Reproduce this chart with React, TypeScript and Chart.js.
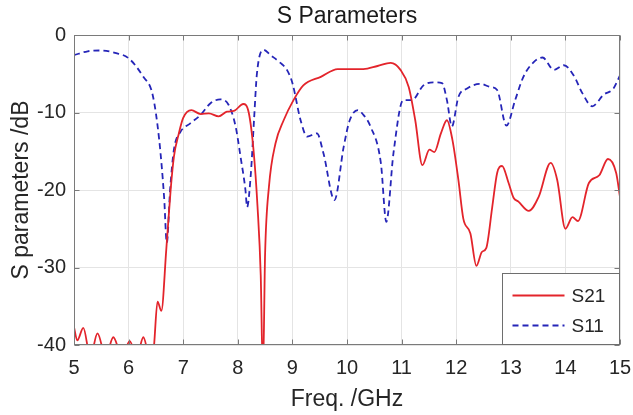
import React, { useEffect, useRef } from "react";
import { Chart, registerables } from "chart.js";

Chart.register(...registerables);

const chartTitle = "S Parameters";
const xAxisLabel = "Freq. /GHz";
const yAxisLabel = "S parameters /dB";
const xTickValues = [5, 6, 7, 8, 9, 10, 11, 12, 13, 14, 15];
const yTickValues = [-40, -30, -20, -10, 0];

const s21Label = "S21";
const s21Freq = [
  5.0, 5.06, 5.17, 5.3, 5.43, 5.58, 5.72, 5.88, 6.02, 6.15, 6.27, 6.4, 6.46, 6.53, 6.6, 6.69, 6.77, 6.83,
  6.92, 7.0, 7.15, 7.32, 7.47, 7.65, 7.8, 7.93, 8.1, 8.2, 8.29, 8.36, 8.42, 8.46, 8.5, 8.57, 8.69, 8.84,
  9.02, 9.2, 9.52, 9.83, 10.3, 10.56, 10.8, 10.98, 11.13, 11.25, 11.38, 11.51, 11.6, 11.72, 11.83, 11.93,
  12.04, 12.13, 12.26, 12.37, 12.47, 12.55, 12.66, 12.75, 12.84, 12.96, 13.05, 13.14, 13.33, 13.51, 13.73,
  13.85, 14.0, 14.13, 14.23, 14.43, 14.62, 14.78, 14.93, 15.0,
];
const s21Values = [
  -37.7, -39.4, -37.8, -41.5, -38.5, -41.5, -39.0, -41.5, -39.5, -41.5, -39.0, -42.0, -40.5, -34.4, -35.6,
  -27.7, -20.0, -15.7, -12.7, -10.7, -9.7, -10.2, -10.1, -10.5, -9.9, -9.8, -8.9, -10.0, -15.0, -22.0,
  -31.0, -44.0, -28.2, -19.6, -14.0, -11.0, -8.4, -6.5, -5.4, -4.4, -4.4, -4.0, -3.6, -4.5, -6.7, -11.0,
  -16.8, -14.8, -15.1, -12.7, -11.0, -13.5, -18.7, -23.7, -25.6, -29.8, -28.0, -27.5, -22.2, -17.8, -16.9,
  -19.1, -21.0, -21.5, -22.7, -20.9, -16.5, -18.7, -25.0, -23.5, -24.0, -19.1, -18.1, -16.0, -17.8, -20.9,
];

const s11Label = "S11";
const s11Freq = [
  5.0, 5.25, 5.5, 5.75, 6.0, 6.27, 6.44, 6.56, 6.65, 6.7, 6.76, 6.83, 6.95, 7.13, 7.32, 7.5, 7.68, 7.83,
  7.96, 8.05, 8.14, 8.17, 8.24, 8.3, 8.35, 8.47, 8.6, 8.78, 8.9, 9.0, 9.15, 9.27, 9.45, 9.57, 9.77, 9.94,
  10.05, 10.2, 10.3, 10.43, 10.62, 10.72, 10.85, 11.03, 11.19, 11.4, 11.58, 11.74, 11.83, 11.92, 12.04,
  12.2, 12.44, 12.62, 12.75, 12.92, 13.08, 13.23, 13.42, 13.58, 13.79, 13.97, 14.15, 14.31, 14.49, 14.7,
  14.88, 15.0,
];
const s11Values = [
  -2.6, -2.1, -2.0, -2.3, -3.0, -5.4, -7.7, -13.5, -20.9, -26.8, -20.0, -14.8, -12.5, -11.4, -10.3, -8.8,
  -8.3, -9.0, -11.8, -15.7, -20.0, -22.2, -17.8, -10.6, -5.0, -1.9, -2.6, -3.6, -4.5, -6.2, -11.0, -13.1,
  -12.7, -15.3, -21.3, -14.4, -11.0, -9.7, -10.3, -11.8, -16.5, -24.1, -15.3, -8.4, -8.4, -6.5, -6.1, -6.2,
  -8.4, -11.8, -8.0, -6.9, -6.3, -6.7, -7.1, -11.7, -8.4, -5.4, -3.5, -2.9, -4.5, -3.9, -5.2, -7.5, -9.2,
  -7.7, -6.9, -5.2,
];

const FONT = "'Liberation Sans', Arial, Helvetica, sans-serif";
const RED = "#e3242b";
const BLUE = "#2525b8";

const framePlugin = {
  id: "frameAndLegend",
  afterDatasetsDraw(chart: any) {
    const { ctx, chartArea, scales } = chart;
    const { left, right, top, bottom } = chartArea;
    const L = Math.round(left) + 0.5;
    const R = Math.round(right) - 0.5;
    const T = Math.round(top) + 0.5;
    const B = Math.round(bottom) - 0.5;
    ctx.save();
    ctx.strokeStyle = "#7a7a7a";
    ctx.lineWidth = 1;
    ctx.beginPath();
    xTickValues.forEach((v) => {
      const px = Math.round(scales.x.getPixelForValue(v)) + 0.5;
      ctx.moveTo(px, B);
      ctx.lineTo(px, B - 5);
      ctx.moveTo(px, T);
      ctx.lineTo(px, T + 5);
    });
    yTickValues.forEach((v) => {
      const py = Math.round(scales.y.getPixelForValue(v)) + 0.5;
      ctx.moveTo(L, py);
      ctx.lineTo(L + 5, py);
      ctx.moveTo(R, py);
      ctx.lineTo(R - 5, py);
    });
    ctx.stroke();
    ctx.strokeRect(L, T, R - L, B - T);

    // legend box (bottom-right, inside the axes)
    const bw = 118;
    const bh = 72;
    const bx = Math.round(right) - bw + 0.5;
    const by = Math.round(bottom) - bh + 0.5;
    ctx.fillStyle = "#ffffff";
    ctx.fillRect(bx, by, bw - 1, bh - 1);
    ctx.strokeStyle = "#6e6e6e";
    ctx.strokeRect(bx, by, bw - 1, bh - 1);
    const items = chart.data.datasets.map((d: any) => ({
      label: d.label,
      color: d.borderColor,
      dash: d.borderDash || [],
      width: d.borderWidth,
    }));
    items.forEach((it: any, i: number) => {
      const yy = by + 22 + i * 30;
      ctx.beginPath();
      ctx.setLineDash(it.dash);
      ctx.strokeStyle = it.color;
      ctx.lineWidth = it.width;
      ctx.moveTo(bx + 10, yy);
      ctx.lineTo(bx + 62, yy);
      ctx.stroke();
      ctx.setLineDash([]);
      ctx.fillStyle = "#262626";
      ctx.font = `19px ${FONT}`;
      ctx.textBaseline = "middle";
      ctx.textAlign = "left";
      ctx.fillText(it.label, bx + 69, yy + 1);
    });
    ctx.restore();
  },
};

export default function App() {
  const canvasRef = useRef<HTMLCanvasElement | null>(null);

  useEffect(() => {
    if (!canvasRef.current) return;
    const s21Data = s21Freq.map((f, i) => ({ x: f, y: s21Values[i] }));
    const s11Data = s11Freq.map((f, i) => ({ x: f, y: s11Values[i] }));
    const chart = new Chart(canvasRef.current, {
      type: "line",
      data: {
        datasets: [
          {
            label: s21Label,
            data: s21Data,
            borderColor: RED,
            backgroundColor: RED,
            borderWidth: 1.8,
            pointRadius: 0,
            cubicInterpolationMode: "monotone",
            clip: 0,
          },
          {
            label: s11Label,
            data: s11Data,
            borderColor: BLUE,
            backgroundColor: BLUE,
            borderWidth: 1.8,
            borderDash: [6, 4],
            pointRadius: 0,
            cubicInterpolationMode: "monotone",
            clip: 0,
          },
        ],
      },
      options: {
        responsive: false,
        animation: false,
        layout: { padding: { left: 0, right: 13, top: 0, bottom: 0 } },
        plugins: {
          legend: { display: false },
          tooltip: { enabled: false },
          title: {
            display: true,
            fullSize: false,
            text: chartTitle,
            color: "#1a1a1a",
            font: { family: FONT, size: 23, weight: "normal" },
            padding: { top: 3, bottom: 4.4 },
          },
        },
        scales: {
          x: {
            type: "linear",
            min: 5,
            max: 15,
            afterBuildTicks: (scale: any) => {
              scale.ticks = xTickValues.map((v) => ({ value: v }));
            },
            afterFit: (scale: any) => {
              scale.height = 70;
              scale.paddingLeft = 0;
              scale.paddingRight = 0;
            },
            ticks: {
              color: "#262626",
              font: { family: FONT, size: 20 },
              padding: 11,
              maxRotation: 0,
              autoSkip: false,
            },
            grid: { color: "#e4e4e4", lineWidth: 1, drawTicks: false },
            border: { display: false },
            title: {
              display: true,
              text: xAxisLabel,
              color: "#262626",
              font: { family: FONT, size: 23 },
              padding: { top: 0, bottom: 2 },
            },
          },
          y: {
            type: "linear",
            min: -40,
            max: 0,
            afterBuildTicks: (scale: any) => {
              scale.ticks = yTickValues.map((v) => ({ value: v }));
            },
            afterFit: (scale: any) => {
              scale.width = 74;
              scale.paddingTop = 0;
              scale.paddingBottom = 0;
            },
            ticks: {
              color: "#262626",
              font: { family: FONT, size: 20 },
              padding: 8,
              autoSkip: false,
            },
            grid: { color: "#e4e4e4", lineWidth: 1, drawTicks: false },
            border: { display: false },
            title: {
              display: true,
              text: yAxisLabel,
              color: "#262626",
              font: { family: FONT, size: 23 },
              padding: { top: 8, bottom: 0 },
            },
          },
        },
      },
      plugins: [framePlugin],
    } as any);
    return () => chart.destroy();
  }, []);

  return (
    <div style={{ position: "fixed", left: 0, top: 0, width: 633, height: 415, background: "#fff" }}>
      <canvas ref={canvasRef} width={633} height={415} style={{ display: "block" }} />
    </div>
  );
}
